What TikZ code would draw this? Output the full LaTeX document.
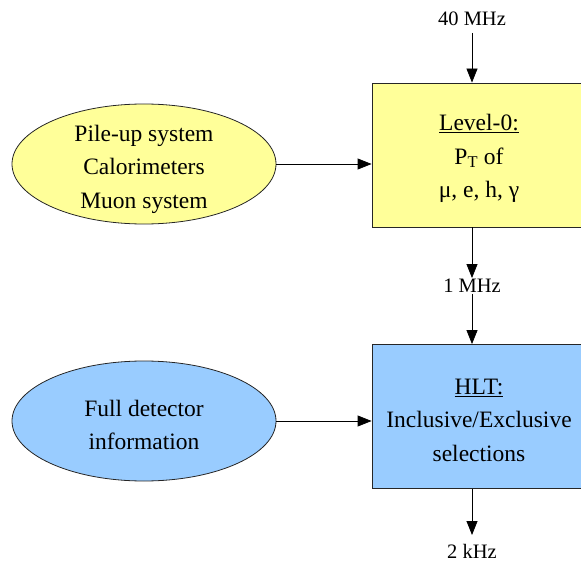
\documentclass[tikz,border=0pt]{standalone}
\usepackage{fontspec}
\setmainfont{Liberation Serif}
\usetikzlibrary{shapes.geometric,arrows.meta}
\definecolor{paleyellow}{RGB}{255,255,153}
\definecolor{paleblue}{RGB}{153,204,255}
\tikzset{
  source/.style={ellipse, draw=black!85, line width=0.8pt, minimum width=264pt,
    minimum height=120pt, inner sep=0pt},
  stage/.style={rectangle, draw=black!85, line width=0.8pt, minimum width=214pt,
    minimum height=144pt, inner sep=0pt},
  caption/.style={inner sep=0pt, align=center,
    font=\fontsize{23.5}{33.5}\selectfont},
  rate/.style={inner sep=1pt, font=\fontsize{20.5}{24}\selectfont},
  flow/.style={line width=0.8pt, -{Triangle[length=14pt,width=11pt]}}
}
\begin{document}
\begin{tikzpicture}[x=1pt,y=-1pt]
  \useasboundingbox (0,0) rectangle (581,564);
  \clip (0,0) rectangle (581,564);
  % trigger stages
  \node[stage, fill=paleyellow] (L0) at (479,155) {};
  \node[caption] (L0txt) at ([yshift=-3.5pt]L0.center)
    {\underline{Level-0:}\\P\textsubscript{T} of\\μ, e, h, γ};
  \node[stage, fill=paleblue] (HLT) at (479,416.5) {};
  \node[caption] (HLTtxt) at ([yshift=-3.5pt]HLT.center)
    {\underline{HLT:}\\Inclusive/Exclusive\\selections};
  % detector inputs
  \node[source, fill=paleyellow] (det) at (144,164) {};
  \node[caption] (dettxt) at ([yshift=-5pt]det.center)
    {Pile-up system\\Calorimeters\\Muon system};
  \node[source, fill=paleblue] (full) at (144,421) {};
  \node[caption] (fulltxt) at ([yshift=-4pt]full.center)
    {Full detector\\information};
  % rates
  \node[rate] (r40) at (472,19) {40 MHz};
  \node[rate] (r1) at (472,286) {1 MHz};
  \node[rate] (r2) at (472,551) {2 kHz};
  \coordinate (in40) at (472,33);
  \coordinate (out2) at (472,535);
  % connectors
  \draw[flow] (in40) -- (in40 |- L0.north);
  \draw[flow] (r1 |- L0.south) -- (r1.north);
  \draw[flow] (r1.south) -- (r1 |- HLT.north);
  \draw[flow] (out2 |- HLT.south) -- (out2);
  \draw[flow] (det.east) -- (det.east -| L0.west);
  \draw[flow] (full.east) -- (full.east -| HLT.west);
\end{tikzpicture}
\end{document}
